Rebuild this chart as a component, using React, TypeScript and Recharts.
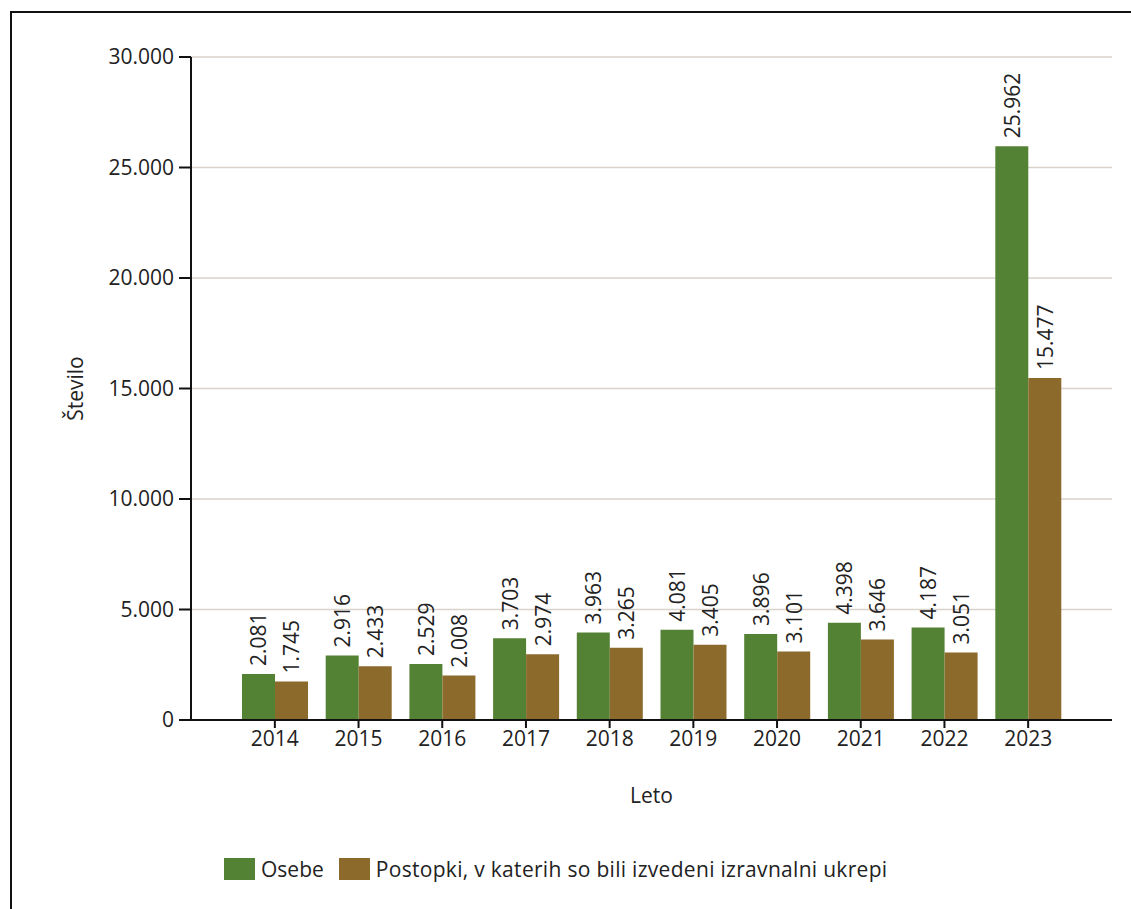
import { Bar, BarChart, CartesianGrid, LabelList, XAxis, YAxis } from 'recharts'

const YEARS = ['2014', '2015', '2016', '2017', '2018', '2019', '2020', '2021', '2022', '2023']
const OSEBE = [2081, 2916, 2529, 3703, 3963, 4081, 3896, 4398, 4187, 25962]
const POSTOPKI = [1745, 2433, 2008, 2974, 3265, 3405, 3101, 3646, 3051, 15477]
const Y_TICKS = [0, 5000, 10000, 15000, 20000, 25000, 30000]

const SERIES = [
  { key: 'osebe', name: 'Osebe', color: '#548235' },
  { key: 'postopki', name: 'Postopki, v katerih so bili izvedeni izravnalni ukrepi', color: '#8C6A2B' },
]

const FONT = '"Open Sans", sans-serif'
const FS = 21

const fmt = (v: number) => String(v).replace(/\B(?=(\d{3})+(?!\d))/g, '.')

const rows = YEARS.map((year, i) => ({ year, osebe: OSEBE[i], postopki: POSTOPKI[i] }))

const barLabel = (props: any) => {
  const { x, y, width, value } = props
  const cx = Number(x) + Number(width) / 2
  const ty = Number(y) - 8
  return (
    <text
      x={cx}
      y={ty}
      transform={`rotate(-90, ${cx}, ${ty})`}
      textAnchor="start"
      dominantBaseline="central"
      fontSize={FS}
      fontFamily={FONT}
      fill="#222"
    >
      {fmt(Number(value))}
    </text>
  )
}

export default function App() {
  return (
    <div
      style={{
        position: 'absolute',
        left: 0,
        top: 0,
        width: 1131,
        height: 909,
        background: '#fff',
        fontFamily: FONT,
        overflow: 'hidden',
      }}
    >
      <div
        style={{
          position: 'absolute',
          left: 10,
          top: 11,
          width: 1131,
          height: 909,
          borderTop: '2px solid #111',
          borderLeft: '2px solid #111',
        }}
      />
      <BarChart
        width={1131}
        height={909}
        data={rows}
        margin={{ top: 57, right: 19, bottom: 89, left: 0 }}
        barSize={33}
        barGap={0}
        style={{ position: 'absolute', left: 0, top: 0 }}
      >
        <CartesianGrid vertical={false} stroke="#d9d3ca" strokeWidth={1.5} />
        <XAxis
          dataKey="year"
          height={100}
          padding={{ left: 42, right: 42 }}
          tickSize={8}
          tickMargin={3}
          axisLine={{ stroke: '#111', strokeWidth: 2 }}
          tickLine={{ stroke: '#111', strokeWidth: 2 }}
          tick={{ fill: '#222', fontSize: FS, fontFamily: FONT }}
          label={(p: any) => {
            const vb = p.viewBox
            return (
              <text
                x={vb.x + vb.width / 2}
                y={795}
                textAnchor="middle"
                dominantBaseline="central"
                fontSize={FS}
                fontFamily={FONT}
                fill="#222"
              >
                Leto
              </text>
            )
          }}
        />
        <YAxis
          width={191}
          domain={[0, 30000]}
          ticks={Y_TICKS}
          interval={0}
          tickFormatter={fmt}
          tickSize={12}
          tickMargin={5}
          axisLine={{ stroke: '#111', strokeWidth: 2 }}
          tickLine={{ stroke: '#111', strokeWidth: 2 }}
          tick={{ fill: '#222', fontSize: FS, fontFamily: FONT }}
          label={(p: any) => {
            const vb = p.viewBox
            const cy = vb.y + vb.height / 2
            return (
              <text
                x={75}
                y={cy}
                transform={`rotate(-90, 75, ${cy})`}
                textAnchor="middle"
                dominantBaseline="central"
                fontSize={FS}
                fontFamily={FONT}
                fill="#222"
              >
                Število
              </text>
            )
          }}
        />
        {SERIES.map((s) => (
          <Bar key={s.key} dataKey={s.key} name={s.name} fill={s.color} isAnimationActive={false}>
            <LabelList dataKey={s.key} content={barLabel} />
          </Bar>
        ))}
      </BarChart>
      <div
        style={{
          position: 'absolute',
          left: 224,
          top: 855,
          display: 'flex',
          alignItems: 'center',
          fontSize: FS,
          color: '#222',
        }}
      >
        {SERIES.map((s, i) => (
          <div key={s.key} style={{ display: 'flex', alignItems: 'center', marginRight: i === 0 ? 15 : 0 }}>
            <span style={{ display: 'inline-block', width: 31, height: 22, background: s.color, marginRight: 6 }} />
            <span style={{ letterSpacing: i === 0 ? 0 : 0.3 }}>{s.name}</span>
          </div>
        ))}
      </div>
    </div>
  )
}
